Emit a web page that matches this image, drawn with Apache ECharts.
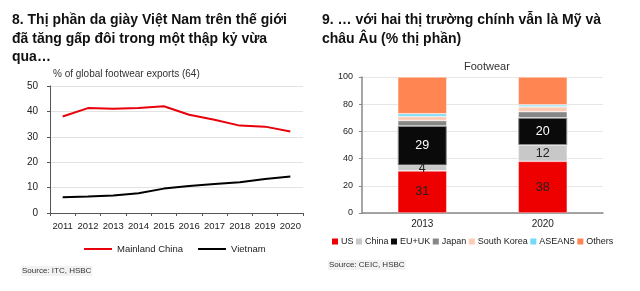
<!DOCTYPE html>
<html><head><meta charset="utf-8">
<script src="https://cdn.jsdelivr.net/npm/echarts@6/dist/echarts.min.js"></script>
<style>html,body{margin:0;padding:0;background:#fff}#c{width:640px;height:291px}</style>
</head><body><div id="c"></div>
<script>
const years = ['2011','2012','2013','2014','2015','2016','2017','2018','2019','2020'];
const chinaShare = [38.0, 41.3, 41.0, 41.3, 42.0, 38.7, 36.7, 34.4, 34.0, 32.1];
const vietnamShare = [6.2, 6.5, 6.9, 7.8, 9.6, 10.6, 11.4, 12.1, 13.4, 14.4];
const leftTicks = [0, 10, 20, 30, 40, 50];

const barYears = ['2013', '2020'];
const usVals = [31, 38];
const chinaVals = [4, 12];
const euukVals = [29, 20];
const japanVals = [4, 4.5];
const koreaVals = [3, 3.5];
const aseanVals = [2, 1.5];
const othersVals = [27, 20.5];
const rightTicks = [0, 20, 40, 60, 80, 100];

const FONT = '"Liberation Sans", Arial, sans-serif';
const chart = echarts.init(document.getElementById('c'), null, {renderer: 'canvas'});

function stackSeries(name, data, color, labelColor, extra) {
  return Object.assign({
    name: name, type: 'bar', stack: 'all', xAxisIndex: 1, yAxisIndex: 1,
    data: data, barWidth: 49,
    itemStyle: {color: color, borderColor: 'rgba(255,255,255,0.7)', borderWidth: 0.6},
    label: labelColor ? {show: true, position: 'inside', color: labelColor, fontSize: 12.5, fontFamily: FONT} : {show: false},
    emphasis: {disabled: true}
  }, extra || {});
}

chart.setOption({
  animation: false,
  textStyle: {fontFamily: FONT},
  title: [
    {text: '8. Thị phần da giày Việt Nam trên thế giới\nđã tăng gấp đôi trong một thập kỷ vừa\nqua…', left: 12, top: 11, padding: 0,
     textStyle: {fontSize: 14, fontWeight: 'bold', color: '#111', lineHeight: 18.5, fontFamily: FONT}},
    {text: '9. … với hai thị trường chính vẫn là Mỹ và\nchâu Âu (% thị phần)', left: 322, top: 11, padding: 0,
     textStyle: {fontSize: 14, fontWeight: 'bold', color: '#111', lineHeight: 18.5, fontFamily: FONT}},
    {text: '% of global footwear exports (64)', left: 53, top: 69, padding: 0,
     textStyle: {fontSize: 10, fontWeight: 'normal', color: '#333', fontFamily: FONT}},
    {text: 'Footwear', left: 464, top: 61, padding: 0,
     textStyle: {fontSize: 11, fontWeight: 'normal', color: '#333', fontFamily: FONT}},
    {text: 'Source: ITC, HSBC', left: 21, top: 266, padding: [1, 1],
     backgroundColor: '#f2f2f2',
     textStyle: {fontSize: 8, fontWeight: 'normal', color: '#333', fontFamily: FONT}},
    {text: 'Source: CEIC, HSBC', left: 328, top: 260, padding: [1, 1],
     backgroundColor: '#f2f2f2',
     textStyle: {fontSize: 8, fontWeight: 'normal', color: '#333', fontFamily: FONT}}
  ],
  legend: [
    {data: ['Mainland China', 'Vietnam'], left: 84, top: 244, itemWidth: 28, itemHeight: 8, itemGap: 15,
     icon: 'path://M0,0 L28,0 L28,2 L0,2 Z',
     textStyle: {fontSize: 9.5, color: '#222', fontFamily: FONT}, padding: 0},
    {data: ['US', 'China', 'EU+UK', 'Japan', 'South Korea', 'ASEAN5', 'Others'], left: 332, top: 237,
     itemWidth: 6, itemHeight: 6, itemGap: 2.5, icon: 'rect',
     itemStyle: {borderWidth: 0},
     textStyle: {fontSize: 9, color: '#222', fontFamily: FONT, padding: [0, 0, 0, -2]}, padding: 0}
  ],
  grid: [
    {left: 50, right: 337, top: 86, bottom: 78},
    {left: 362, right: 37, top: 77, bottom: 78}
  ],
  xAxis: [
    {type: 'category', gridIndex: 0, data: years, boundaryGap: true,
     axisLine: {lineStyle: {color: '#555', width: 1}},
     axisTick: {show: true, length: 3, lineStyle: {color: '#555'}},
     axisLabel: {fontSize: 9.5, color: '#222', margin: 8, interval: 0}},
    {type: 'category', gridIndex: 1, data: barYears,
     axisLine: {lineStyle: {color: '#888', width: 1.5}},
     axisTick: {show: false},
     axisLabel: {fontSize: 10, color: '#222', margin: 6}}
  ],
  yAxis: [
    {type: 'value', gridIndex: 0, min: 0, max: 50, interval: 10,
     axisLine: {show: true, lineStyle: {color: '#555'}},
     axisTick: {show: true, length: 3, lineStyle: {color: '#555'}},
     splitLine: {lineStyle: {color: '#e3e3e3'}},
     axisLabel: {fontSize: 10, color: '#222', margin: 12,
       formatter: v => leftTicks.includes(v) ? String(v) : ''}},
    {type: 'value', gridIndex: 1, min: 0, max: 100, interval: 20,
     axisLine: {show: true, lineStyle: {color: '#888', width: 1.5}},
     axisTick: {show: true, length: 3, lineStyle: {color: '#888'}},
     splitLine: {lineStyle: {color: '#e6e6e6'}},
     axisLabel: {fontSize: 9, color: '#222', margin: 9,
       formatter: v => rightTicks.includes(v) ? String(v) : ''}}
  ],
  series: [
    {name: 'Mainland China', type: 'line', xAxisIndex: 0, yAxisIndex: 0, data: chinaShare,
     symbol: 'none', lineStyle: {color: '#e8000b', width: 2}, itemStyle: {color: '#e8000b'}},
    {name: 'Vietnam', type: 'line', xAxisIndex: 0, yAxisIndex: 0, data: vietnamShare,
     symbol: 'none', lineStyle: {color: '#000', width: 2}, itemStyle: {color: '#000'}},
    stackSeries('US', usVals, '#ee0000', '#222'),
    stackSeries('China', chinaVals, '#c8c8c8', '#222'),
    stackSeries('EU+UK', euukVals, '#0a0a0a', '#fff', {itemStyle: {color: '#0a0a0a', borderColor: '#8a8a8a', borderWidth: 1}}),
    stackSeries('Japan', japanVals, '#878787', null),
    stackSeries('South Korea', koreaVals, '#fdcbb4', null),
    stackSeries('ASEAN5', aseanVals, '#72d9f7', null),
    stackSeries('Others', othersVals, '#ff8552', null)
  ]
});
</script></body></html>
